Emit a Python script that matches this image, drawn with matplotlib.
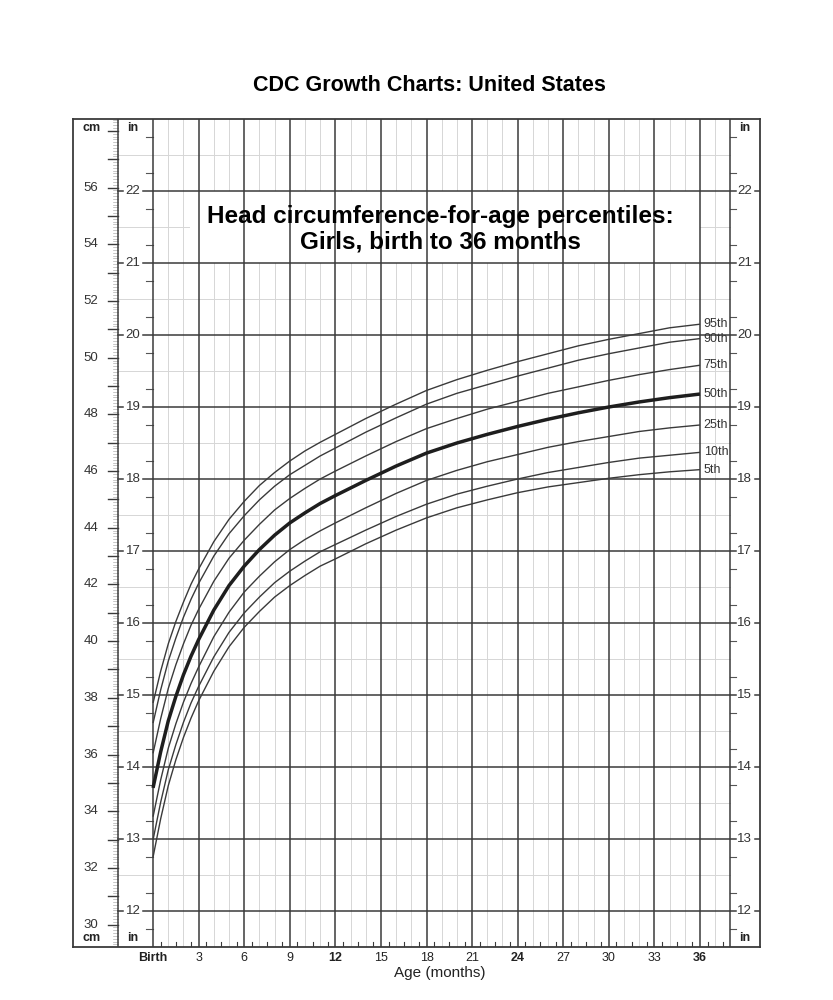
import matplotlib
matplotlib.use('Agg')
import matplotlib.pyplot as plt
import numpy as np

plt.rcParams['font.family'] = ['Liberation Sans', 'DejaVu Sans']

# age in months, head circumference in inches
ages = [0, 0.5, 1, 1.5, 2, 2.5, 3, 4, 5, 6, 7, 8, 9, 10, 11, 12,
        14, 16, 18, 20, 22, 24, 26, 28, 30, 32, 34, 36]
p95 = [14.89, 15.33, 15.71, 16.02, 16.29, 16.54, 16.75, 17.13, 17.44, 17.69, 17.91, 18.09, 18.25, 18.39,
       18.51, 18.62, 18.84, 19.04, 19.23, 19.38, 19.51, 19.63, 19.74, 19.85, 19.94, 20.02, 20.10, 20.15]
p90 = [14.61, 15.07, 15.47, 15.79, 16.08, 16.33, 16.55, 16.93, 17.24, 17.49, 17.71, 17.90, 18.06, 18.19,
       18.32, 18.43, 18.65, 18.85, 19.04, 19.19, 19.31, 19.43, 19.54, 19.65, 19.74, 19.82, 19.90, 19.95]
p75 = [14.19, 14.67, 15.09, 15.42, 15.71, 15.97, 16.19, 16.58, 16.90, 17.15, 17.37, 17.57, 17.73, 17.87,
       18.00, 18.11, 18.32, 18.52, 18.70, 18.84, 18.97, 19.08, 19.19, 19.28, 19.37, 19.45, 19.52, 19.58]
p50 = [13.71, 14.21, 14.64, 14.98, 15.28, 15.54, 15.77, 16.18, 16.52, 16.79, 17.02, 17.22, 17.39, 17.53,
       17.66, 17.77, 17.98, 18.18, 18.36, 18.50, 18.62, 18.73, 18.83, 18.92, 19.00, 19.07, 19.13, 19.18]
p25 = [13.31, 13.82, 14.26, 14.60, 14.90, 15.16, 15.39, 15.81, 16.15, 16.43, 16.65, 16.85, 17.02, 17.16,
       17.28, 17.39, 17.60, 17.80, 17.98, 18.12, 18.24, 18.34, 18.44, 18.52, 18.59, 18.66, 18.71, 18.75]
p10 = [12.99, 13.51, 13.96, 14.31, 14.62, 14.89, 15.12, 15.53, 15.87, 16.14, 16.36, 16.56, 16.72, 16.86,
       16.99, 17.09, 17.29, 17.48, 17.65, 17.79, 17.90, 18.00, 18.09, 18.16, 18.23, 18.29, 18.33, 18.37]
p5 = [12.75, 13.28, 13.74, 14.10, 14.41, 14.68, 14.92, 15.33, 15.67, 15.94, 16.16, 16.36, 16.52, 16.66,
      16.79, 16.89, 17.10, 17.29, 17.46, 17.60, 17.71, 17.81, 17.89, 17.95, 18.01, 18.06, 18.10, 18.13]

curves = [('95th', p95), ('90th', p90), ('75th', p75), ('50th', p50),
          ('25th', p25), ('10th', p10), ('5th', p5)]

x_ticks = [0, 3, 6, 9, 12, 15, 18, 21, 24, 27, 30, 33, 36]
x_labels = ['Birth', '3', '6', '9', '12', '15', '18', '21', '24', '27', '30', '33', '36']
bold_x = ['Birth', '12', '24', '36']
in_labels = list(range(12, 23))
cm_labels = list(range(30, 57, 2))

DARK = '#3a3a3a'
LIGHT = '#d6d6d6'
X0, X1 = -5.27, 39.95      # outer frame in months
XCM = -2.31                # cm | in column boundary
Y0, Y1 = 11.5, 23.0        # inches

fig = plt.figure(figsize=(8.33, 10), dpi=100)
ax = fig.add_axes([73 / 833, 53 / 1000, 687 / 833, 828 / 1000])
ax.set_xlim(X0, X1)
ax.set_ylim(Y0, Y1)
ax.set_xticks([]); ax.set_yticks([])
for s in ax.spines.values():
    s.set_color(DARK); s.set_linewidth(1.3)

# light grid
for m in range(1, 38):
    if m % 3:
        ax.plot([m, m], [Y0, Y1], color=LIGHT, lw=0.7, zorder=1)
for v in np.arange(11.5, 23, 1.0):
    ax.plot([XCM, 38], [v, v], color=LIGHT, lw=0.7, zorder=1)

# half month ticks at the bottom
for m in np.arange(0.5, 38, 1.0):
    ax.plot([m, m], [Y0, Y0 + 0.07], color=DARK, lw=0.8, zorder=2)

# quarter inch ticks
for v in np.arange(11.75, 23, 0.5):
    ax.plot([-0.46, 0], [v, v], color='#555', lw=0.8, zorder=2)
    ax.plot([38, 38.34], [v, v], color='#555', lw=0.8, zorder=2)

# white title box
ax.add_patch(plt.Rectangle((2.4, 21), 33.6, 1, facecolor='white', edgecolor='none', zorder=2))

# major grid
for m in x_ticks:
    ax.plot([m, m], [Y0, Y1], color=DARK, lw=1.1, zorder=3)
for v in in_labels:
    ax.plot([-0.66, 38.34], [v, v], color=DARK, lw=1.1, zorder=3)
    ax.plot([XCM, XCM + 0.33], [v, v], color=DARK, lw=1.1, zorder=3)
    ax.plot([39.6, X1], [v, v], color=DARK, lw=1.1, zorder=3)
ax.plot([XCM, XCM], [Y0, Y1], color=DARK, lw=1.1, zorder=3)
ax.plot([38, 38], [Y0, Y1], color=DARK, lw=1.1, zorder=3)

# cm scale
for mm in range(293, 585):
    c = mm / 10 / 2.54
    if c < Y0 or c > Y1:
        continue
    if mm % 10 == 0:
        ax.plot([XCM - 0.66, XCM], [c, c], color=DARK, lw=1.0, zorder=2)
    else:
        ax.plot([XCM - 0.33, XCM], [c, c], color='#b0b0b0', lw=0.5, zorder=2)
for c in cm_labels:
    ax.text(-4.08, c / 2.54, str(c), ha='center', va='center', fontsize=9.5, color='#333')

for v in in_labels:
    ax.text(-1.32, v, str(v), ha='center', va='center', fontsize=9.5, color='#333')
    ax.text(38.93, v, str(v), ha='center', va='center', fontsize=9.5, color='#333')

for x, t in [(-4.08, 'cm'), (-1.32, 'in'), (38.93, 'in')]:
    ax.text(x, 22.87, t, ha='center', va='center', fontsize=9, fontweight='bold', color='#222')
    ax.text(x, 11.62, t, ha='center', va='center', fontsize=9, fontweight='bold', color='#222')

# percentile curves
for name, vals in curves:
    lw = 2.5 if name == '50th' else 1.0
    col = '#1e1e1e' if name == '50th' else '#3a3a3a'
    ax.plot(ages, vals, color=col, lw=lw, zorder=4, solid_capstyle='butt', solid_joinstyle='round')
    ax.text(36.25, vals[-1], name, ha='left', va='center', fontsize=9, color='#333', zorder=5)

# axis labels
for m, t in zip(x_ticks, x_labels):
    ax.text(m, 11.35, t, ha='center', va='center', fontsize=9, color='#222',
            fontweight='bold' if t in bold_x else 'normal', clip_on=False)
ax.text(18.9, 11.14, 'Age (months)', ha='center', va='center', fontsize=11, color='#222')

ax.text(18.9, 21.47, 'Head circumference-for-age percentiles:\nGirls, birth to 36 months',
        ha='center', va='center', fontsize=17.5, fontweight='bold', linespacing=1.1, zorder=6)
ax.text(18.2, 23.47, 'CDC Growth Charts: United States', ha='center', va='center',
        fontsize=15.5, fontweight='bold', clip_on=False)

fig.savefig('out.png', dpi=100)
plt.close()
